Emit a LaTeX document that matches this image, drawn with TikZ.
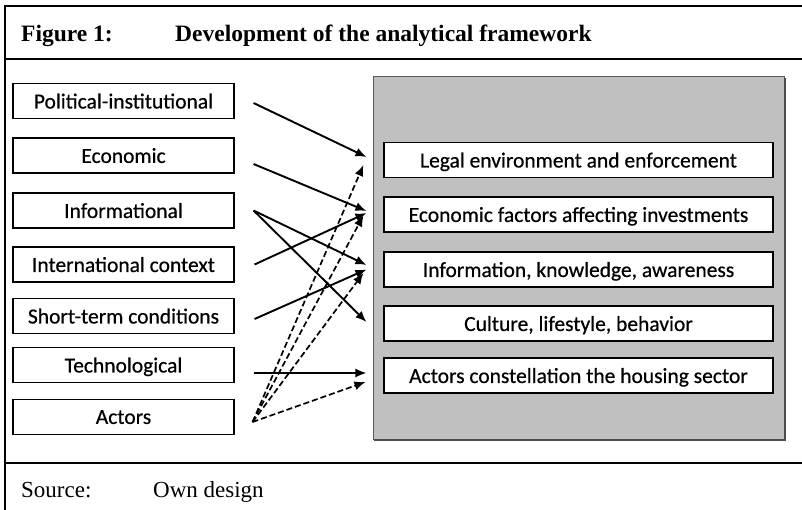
\documentclass[tikz,border=0pt]{standalone}
\usepackage{fontspec}
\setmainfont{Liberation Serif}
\newfontfamily\boxfont[FakeBold=0.5]{Carlito}
\usetikzlibrary{arrows.meta}
\definecolor{panelgray}{RGB}{192,192,192}

\begin{document}
\begin{tikzpicture}[x=1pt, y=-1pt,
		factor/.style={draw, line width=1.1pt, fill=white, minimum width=221pt, minimum height=35pt, inner sep=0pt, text depth=0pt, font=\boxfont\fontsize{21.5}{25}\selectfont},
		targetbox/.style={factor, minimum width=389pt},
		link/.style={line width=1.9pt, -{Latex[length=11pt, width=9pt]}},
		dlink/.style={link, line width=1.7pt, dash pattern=on 6pt off 3pt},
		caption/.style={anchor=base west, inner sep=0pt, font=\fontsize{23}{27}\selectfont}]
		\useasboundingbox (0,0) rectangle (802,510);
		% frame
		\draw[line width=2.4pt] (5,510) -- (5,6) -- (802,6);
		\draw[line width=2.4pt] (5,59) -- (802,59);
		\draw[line width=2.4pt] (5,463) -- (802,463);
		\node[caption, font=\bfseries\fontsize{23.5}{27}\selectfont] (fig) at (21,42) {Figure 1:};
		\node[caption, font=\bfseries\fontsize{23.5}{27}\selectfont] (title) at (175,42) {Development of the analytical framework};
		\node[caption] (src) at (21,497) {Source:};
		\node[caption] (own) at (153,497) {Own design};
		% panel
		\draw[fill=panelgray, draw=black!65, line width=1pt] (373,77) rectangle (784,439);
		\draw[black!70, line width=1.4pt] (785,78) -- (785,440) -- (374,440);
		% factors
		\node[factor] (pol) at (123.5,101) {Political-institutional};
		\node[factor] (eco) at (123.5,155.5) {Economic};
		\node[factor] (info) at (123.5,210.5) {Informational};
		\node[factor] (intl) at (123.5,264.5) {International context};
		\node[factor] (short) at (123.5,316) {Short-term conditions};
		\node[factor] (tech) at (123.5,365) {Technological};
		\node[factor] (act) at (123.5,417) {Actors};
		% targets
		\node[targetbox] (legal) at (578.5,160) {Legal environment and enforcement};
		\node[targetbox] (invest) at (578.5,214.5) {Economic factors affecting investments};
		\node[targetbox] (know) at (578.5,269.5) {Information, knowledge, awareness};
		\node[targetbox] (cult) at (578.5,323.5) {Culture, lifestyle, behavior};
		\node[targetbox] (housing) at (578.5,375.5) {Actors constellation the housing sector};
		% links
		\draw[link] ([xshift=19pt, yshift=-2pt]pol.east) -- ([xshift=-17pt, yshift=3pt]legal.west);
		\draw[link] ([xshift=19pt, yshift=-8.5pt]eco.east) -- ([xshift=-17pt, yshift=3.5pt]invest.west);
		\draw[link] ([xshift=19pt]info.east) -- ([xshift=-17pt, yshift=4.5pt]know.west);
		\draw[link] ([xshift=19pt]info.east) -- ([xshift=-17pt, yshift=1.5pt]cult.west);
		\draw[link] ([xshift=20pt]intl.east) -- ([xshift=-17pt, yshift=1.5pt]invest.west);
		\draw[link] ([xshift=20pt, yshift=-3pt]short.east) -- ([xshift=-17pt]know.west);
		\draw[link] ([xshift=19pt, yshift=-8pt]tech.east) -- ([xshift=-17pt, yshift=2.5pt]housing.west);
		\draw[dlink] ([xshift=18pt, yshift=-5pt]act.east) -- ([xshift=-20pt, yshift=-5pt]legal.west);
		\draw[dlink] ([xshift=18pt, yshift=-5pt]act.east) -- ([xshift=-20pt, yshift=-1pt]invest.west);
		\draw[dlink] ([xshift=18pt, yshift=-5pt]act.east) -- ([xshift=-20pt, yshift=-3.5pt]know.west);
		\draw[dlink] ([xshift=18pt, yshift=-5pt]act.east) -- ([xshift=-18pt, yshift=-6.5pt]housing.west);
	\end{tikzpicture}
\end{document}
